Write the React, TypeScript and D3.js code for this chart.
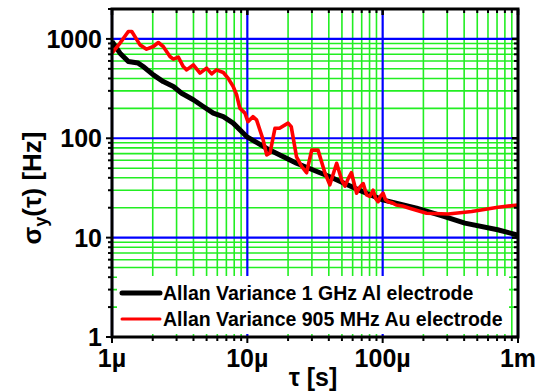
import * as d3 from 'd3'

// tau in microseconds, sigma in Hz
const tauAl = [1, 1.146, 1.32, 1.56, 1.7, 2.02, 2.39, 2.84, 3.27, 3.99, 4.72, 5.6, 6.64, 7.86, 9.88, 13.9, 23.1, 40.7, 71.3, 100, 178, 287, 405, 707, 1000]
const sigmaAl = [942, 719, 592, 571, 527, 435, 372, 332, 284, 244, 209, 179, 165, 142, 104, 79, 56, 41, 29, 24, 19.8, 16.3, 14, 12, 10.6]

const tauAu = [1, 1.146, 1.32, 1.4, 1.61, 1.8, 2.02, 2.2, 2.39, 2.68, 2.84, 3.09, 3.36, 3.56, 3.99, 4.47, 5.0, 5.45, 5.92, 6.64, 7.2, 7.86, 8.33, 8.8, 9.6, 10.1, 11.0, 11.7, 13.1, 13.9, 14.7, 16.0, 17.3, 20.0, 21.1, 23.1, 25.2, 27.4, 29.9, 33.3, 37.4, 40.7, 45.7, 49.8, 52.7, 55.5, 58.8, 64.2, 67.5, 71.8, 76.0, 80.4, 85.1, 88.5, 92.5, 96.0, 100.7, 105.0, 109.9, 117, 126, 140, 158, 211, 305, 455, 712, 1000]
const sigmaAu = [719, 907, 1188, 1188, 871, 789, 839, 920, 839, 665, 625, 655, 527, 488, 548, 452, 508, 445, 488, 459, 403, 332, 274, 201, 179, 147, 165, 153, 96, 68, 71, 126, 126, 142, 131, 65, 52, 45, 76, 76, 45, 34, 56, 38, 33, 39, 45, 28, 32, 35, 27, 26, 30, 25, 23, 26, 28, 24, 23, 22.5, 21.3, 20.8, 19.8, 17.6, 17.3, 18.3, 20.2, 21.3]

const xMajor = [1e-6, 1e-5, 1e-4, 1e-3]
const xTickLabels = ['1µ', '10µ', '100µ', '1m']
const yMajor = [1, 10, 100, 1000]
const yTickLabels = ['1', '10', '100', '1000']
const legendLabels = ['Allan Variance 1 GHz Al electrode', 'Allan Variance 905 MHz Au electrode']

const W = 535
const H = 392
const L = 112, R = 518, T = 9, B = 337
const FONT = '"Liberation Sans", Arial, sans-serif'

const x = d3.scaleLog().domain([1e-6, 1e-3]).range([L, R])
const y = d3.scaleLog().domain([1, 2000]).range([B, T])

const minorX: number[] = []
for (let e = -6; e < -3; e++) for (let k = 2; k <= 9; k++) minorX.push(k * Math.pow(10, e))
const minorY: number[] = []
for (let e = 0; e < 4; e++) for (let k = 2; k <= 9; k++) if (k * Math.pow(10, e) <= 2000) minorY.push(k * Math.pow(10, e))

const line = d3
  .line<[number, number]>()
  .x((d) => x(d[0] * 1e-6))
  .y((d) => y(d[1]))
  .curve(d3.curveLinear)

const dataAl = tauAl.map((t, i) => [t, sigmaAl[i]] as [number, number])
const dataAu = tauAu.map((t, i) => [t, sigmaAu[i]] as [number, number])

export default function App() {
  const green = '#22ee22'
  const blue = '#0000ff'
  return (
    <svg width={W} height={H} style={{ position: 'absolute', left: 0, top: 0, background: '#fff' }} fontFamily={FONT} fontWeight="bold">
      {/* grid */}
      {minorX.map((v) => (
        <line key={'gx' + v} x1={x(v)} x2={x(v)} y1={T} y2={B} stroke={green} strokeWidth={1.6} />
      ))}
      {minorY.map((v) => (
        <line key={'gy' + v} x1={L} x2={R} y1={y(v)} y2={y(v)} stroke={green} strokeWidth={1.6} />
      ))}
      {xMajor.map((v) => (
        <line key={'bx' + v} x1={x(v)} x2={x(v)} y1={T} y2={B} stroke={blue} strokeWidth={2.2} />
      ))}
      {yMajor.map((v) => (
        <line key={'by' + v} x1={L} x2={R} y1={y(v)} y2={y(v)} stroke={blue} strokeWidth={2.2} />
      ))}

      {/* curves */}
      <path d={line(dataAl) || ''} fill="none" stroke="#000" strokeWidth={5} strokeLinejoin="round" />
      <path d={line(dataAu) || ''} fill="none" stroke="#ff0000" strokeWidth={3.6} strokeLinejoin="round" />

      {/* legend */}
      <rect x={117} y={276} width={392} height={58} fill="#fff" />
      <line x1={122} x2={160} y1={293} y2={293} stroke="#000" strokeWidth={5} strokeLinecap="round" />
      <line x1={122} x2={160} y1={319} y2={319} stroke="#ff0000" strokeWidth={3} strokeLinecap="round" />
      <text x={163} y={300} fontSize={19.5}>{legendLabels[0]}</text>
      <text x={163} y={326} fontSize={19.5}>{legendLabels[1]}</text>

      {/* ticks */}
      {xMajor.map((v) => (
        <g key={'tx' + v}>
          <line x1={x(v)} x2={x(v)} y1={B} y2={B + 6} stroke="#000" strokeWidth={2} />
          <line x1={x(v)} x2={x(v)} y1={T} y2={T + 6} stroke="#000" strokeWidth={2.5} />
        </g>
      ))}
      {minorX.map((v) => (
        <g key={'mx' + v}>
          <line x1={x(v)} x2={x(v)} y1={B} y2={B + 4} stroke="#000" strokeWidth={2} />
          <line x1={x(v)} x2={x(v)} y1={T} y2={T + 4} stroke="#000" strokeWidth={2} />
        </g>
      ))}
      {yMajor.map((v) => (
        <g key={'ty' + v}>
          <line x1={L - 6} x2={L} y1={y(v)} y2={y(v)} stroke="#000" strokeWidth={2} />
          <line x1={R - 6} x2={R} y1={y(v)} y2={y(v)} stroke="#000" strokeWidth={2.5} />
        </g>
      ))}
      {minorY.map((v) => (
        <g key={'my' + v}>
          <line x1={L - 4} x2={L} y1={y(v)} y2={y(v)} stroke="#000" strokeWidth={2} />
          <line x1={R - 4} x2={R} y1={y(v)} y2={y(v)} stroke="#000" strokeWidth={2} />
        </g>
      ))}

      {/* frame */}
      <rect x={L} y={T} width={R - L} height={B - T} fill="none" stroke="#000" strokeWidth={3} />

      {/* tick labels */}
      {xMajor.map((v, i) => (
        <text key={'lx' + v} x={x(v)} y={367} fontSize={25} textAnchor="middle">
          {xTickLabels[i]}
        </text>
      ))}
      {yMajor.map((v, i) => (
        <text key={'ly' + v} x={102} y={y(v) + 9} fontSize={25} textAnchor="end">
          {yTickLabels[i]}
        </text>
      ))}

      {/* axis titles */}
      <text x={313} y={386} fontSize={25} textAnchor="middle">τ [s]</text>
      <text transform="translate(41,188) rotate(-90)" fontSize={26} textAnchor="middle">
        σ<tspan fontSize={18} dy={6}>y</tspan>
        <tspan dy={-6}>(τ) [Hz]</tspan>
      </text>
    </svg>
  )
}
